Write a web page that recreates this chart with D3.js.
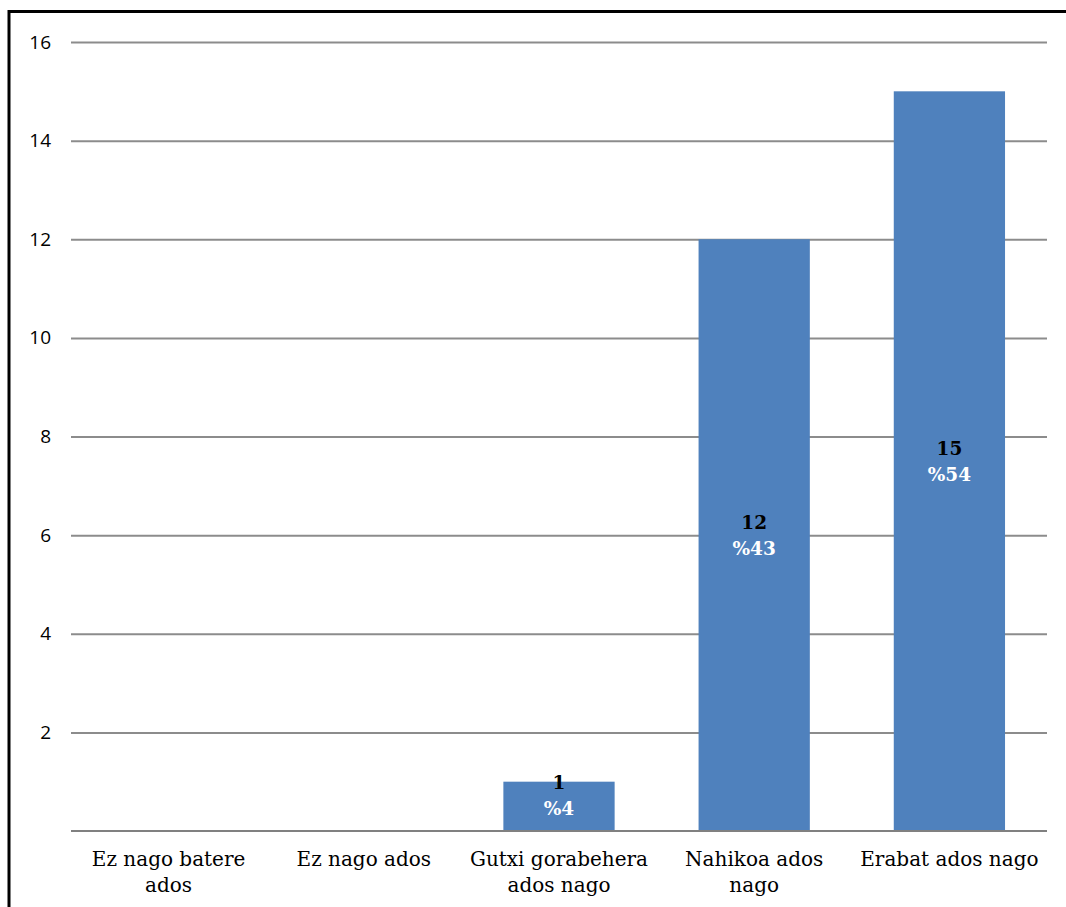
<!DOCTYPE html>
<html><head><meta charset="utf-8">
<script src="https://cdn.jsdelivr.net/npm/d3@7"></script>
<style>body{margin:0;background:#fff}svg{display:block}</style>
</head><body>
<svg id="c" width="1066" height="907"></svg>
<script>
const categories = [["Ez nago batere","ados"],["Ez nago ados"],["Gutxi gorabehera","ados nago"],["Nahikoa ados","nago"],["Erabat ados nago"]];
const values = [0, 0, 1, 12, 15];
const percents = ["", "", "%4", "%43", "%54"];
const yTicks = [2, 4, 6, 8, 10, 12, 14, 16];

const svg = d3.select("#c");
const W = 1066, H = 907;
const m = {l: 71, r: 1047, t: 42, b: 831};

// frame
svg.append("path").attr("d", `M9,${H} V11.5 H${W}`).attr("fill","none").attr("stroke","#000").attr("stroke-width",3);

const x = d3.scaleBand().domain(d3.range(values.length)).range([m.l, m.r]).paddingInner(0.43).paddingOuter(0.215);
const y = d3.scaleLinear().domain([0,16]).range([m.b, m.t]);

const yAxis = svg.append("g").attr("transform",`translate(${m.l},0)`)
  .call(d3.axisLeft(y).tickValues(yTicks).tickSize(-(m.r-m.l)).tickPadding(20));
yAxis.select(".domain").remove();
yAxis.selectAll(".tick line").attr("stroke","#8c8c8c").attr("stroke-width",2);
yAxis.selectAll(".tick text").attr("font-family","'Open Sans', 'Noto Sans', sans-serif").attr("font-size",19).attr("fill","#000");

svg.append("g").selectAll("rect").data(values).join("rect")
  .attr("x",(d,i)=>x(i)).attr("width",x.bandwidth())
  .attr("y",d=>y(d)).attr("height",d=>y(0)-y(d))
  .attr("fill","#4f81bd");

// baseline
svg.append("line").attr("x1",m.l).attr("x2",m.r).attr("y1",y(0)).attr("y2",y(0)).attr("stroke","#808080").attr("stroke-width",2);

// value labels (two-line block centred in bar, kept clear of the baseline)
const lab = svg.append("g").attr("font-family","'DejaVu Serif', serif").attr("font-weight","bold").attr("font-size",18.5).attr("text-anchor","middle");
values.forEach((v,i)=>{
  if(!v) return;
  const cx = x(i)+x.bandwidth()/2;
  const mid = Math.min((y(v)+y(0))/2, y(0)-36);
  lab.append("text").attr("x",cx).attr("y",mid-6).text(v).attr("fill","#000");
  lab.append("text").attr("x",cx).attr("y",mid+20).text(percents[i]).attr("fill","#fff");
});

// category labels
const cl = svg.append("g").attr("font-family","'DejaVu Serif', serif").attr("font-size",20).attr("text-anchor","middle").attr("fill","#000");
categories.forEach((lines,i)=>{
  const cx = x(i)+x.bandwidth()/2;
  lines.forEach((t,j)=>{
    cl.append("text").attr("x",cx).attr("y",866+j*26).text(t);
  });
});
</script>
</body></html>
